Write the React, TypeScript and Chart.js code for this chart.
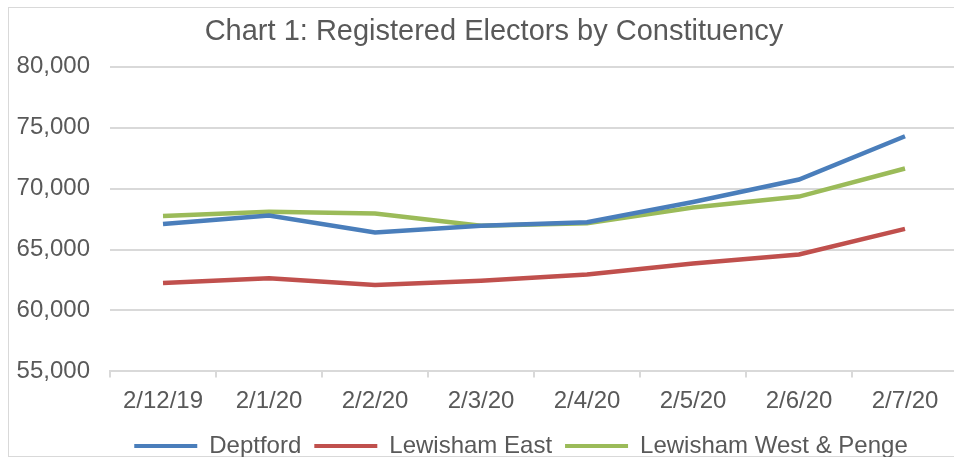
import React, { useEffect, useRef } from "react";
import { Chart, registerables } from "chart.js";

Chart.register(...registerables);

const categories = ["2/12/19", "2/1/20", "2/2/20", "2/3/20", "2/4/20", "2/5/20", "2/6/20", "2/7/20"];
const deptford = [67100, 67800, 66400, 66950, 67250, 68900, 70750, 74300];
const lewishamEast = [62250, 62650, 62100, 62450, 62950, 63850, 64600, 66700];
const lewishamWest = [67750, 68100, 67950, 66950, 67150, 68450, 69350, 71650];
const seriesNames = ["Deptford", "Lewisham East", "Lewisham West & Penge"];
const seriesColors = ["#4a7ebb", "#c0504d", "#9bbb59"];
const yTicks = [55000, 60000, 65000, 70000, 75000, 80000];
const titleText = "Chart 1: Registered Electors by Constituency";

const FONT = "'Liberation Sans', Arial, sans-serif";
const TEXT = "#595959";
const GRID = "#d9d9d9";

const boxShift = {
  id: "boxShift",
  afterLayout(chart: any) {
    const lg = chart.legend;
    if (lg) {
      lg.left += 34;
      lg.right += 34;
    }
    const tb = chart.titleBlock;
    if (tb) {
      tb.left += 7;
      tb.right += 7;
    }
  },
};

export default function App() {
  const ref = useRef<HTMLCanvasElement | null>(null);

  useEffect(() => {
    if (!ref.current) return;
    const values = [deptford, lewishamEast, lewishamWest];
    const chart = new Chart(ref.current, {
      type: "line",
      data: {
        labels: categories,
        datasets: values.map((d, i) => ({
          label: seriesNames[i],
          data: d,
          borderColor: seriesColors[i],
          backgroundColor: seriesColors[i],
          borderWidth: 4.5,
          pointRadius: 0,
          pointHoverRadius: 0,
          tension: 0,
          fill: false,
        })),
      },
      options: {
        animation: false,
        responsive: true,
        maintainAspectRatio: false,
        layout: { padding: { left: 8, right: 22, top: 0, bottom: 0 } },
        plugins: {
          title: {
            display: true,
            text: titleText,
            color: TEXT,
            font: { family: FONT, size: 29, weight: "normal" },
            padding: { top: 7, bottom: 17 },
          },
          legend: {
            position: "bottom",
            labels: {
              color: TEXT,
              font: { family: FONT, size: 24 },
              boxWidth: 63,
              boxHeight: 4,
              padding: 13,
              generateLabels: (c: any) =>
                Chart.defaults.plugins.legend.labels
                  .generateLabels(c)
                  .map((l: any) => ({ ...l, lineWidth: 0 })),
            },
          },
          tooltip: { enabled: false },
        },
        scales: {
          x: {
            type: "category",
            offset: true,
            afterFit: (axis: any) => {
              axis.height = 49.6;
            },
            grid: {
              display: true,
              offset: true,
              drawOnChartArea: false,
              drawTicks: true,
              tickLength: 6,
              color: GRID,
              lineWidth: 2,
            },
            border: { display: true, color: GRID, width: 2 },
            ticks: {
              color: TEXT,
              font: { family: FONT, size: 24 },
              padding: 10,
              maxRotation: 0,
              autoSkip: false,
            },
          },
          y: {
            min: 55000,
            max: 80000,
            afterBuildTicks: (axis: any) => {
              axis.ticks = yTicks.map((v) => ({ value: v }));
            },
            afterFit: (axis: any) => {
              axis.width = 94;
            },
            grid: { color: GRID, lineWidth: 2, drawTicks: false },
            border: { display: false },
            ticks: {
              color: TEXT,
              font: { family: FONT, size: 24 },
              padding: 20,
              callback: (v: any) => Number(v).toLocaleString("en-US"),
            },
          },
        },
      },
      plugins: [boxShift],
    });
    return () => chart.destroy();
  }, []);

  return (
    <div
      style={{
        position: "fixed",
        left: 0,
        top: 0,
        width: 954,
        height: 457,
        overflow: "hidden",
        background: "#ffffff",
      }}
    >
      <div
        style={{
          position: "absolute",
          left: 8,
          top: 7,
          width: 1000,
          height: 448,
          border: `1px solid ${GRID}`,
          boxSizing: "content-box",
        }}
      />
      <div style={{ position: "absolute", left: 8, top: 8, width: 972, height: 460 }}>
        <canvas ref={ref} />
      </div>
    </div>
  );
}
